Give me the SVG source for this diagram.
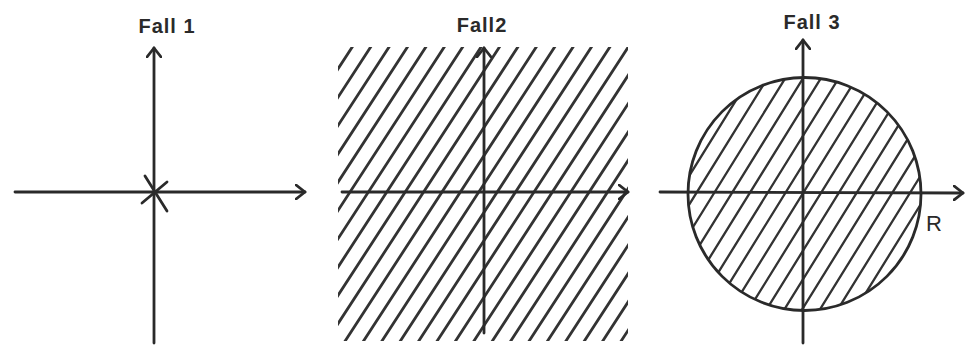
<svg xmlns="http://www.w3.org/2000/svg" width="971" height="350" viewBox="0 0 971 350">
  <style>
    .axis { stroke: #2a2a2a; stroke-width: 2.8; fill: none; stroke-linecap: round; stroke-linejoin: round; }
    .hatch2 { stroke: #333; stroke-width: 2.8; fill: none; stroke-linecap: round; }
    .hatch3 { stroke: #333; stroke-width: 2.3; fill: none; stroke-linecap: round; }
    .lbl { font-family: "Liberation Sans", Arial, sans-serif; font-size: 20px; font-weight: bold; fill: #2a2a2a; letter-spacing: 1px; text-anchor: middle; }
  </style>
  <defs>
    <marker id="arr" viewBox="0 0 12 16" refX="10" refY="8" markerWidth="12" markerHeight="16" markerUnits="userSpaceOnUse" orient="auto">
      <path d="M1,1 L10,8 L1,15" fill="none" stroke="#2a2a2a" stroke-width="2.8" stroke-linecap="round" stroke-linejoin="round"/>
    </marker>
    <clipPath id="clip2">
      <rect x="338" y="47" width="290" height="294"/>
    </clipPath>
    <clipPath id="clip3">
      <circle cx="804.5" cy="194" r="116.5"/>
    </clipPath>
  </defs>
  <rect width="971" height="350" fill="#ffffff"/>

  <!-- Panel 1 -->
  <g id="fall1">
    <text class="lbl" x="167" y="33">Fall 1</text>
    <g id="fall1-axes">
      <path class="axis" d="M15,192 L305,192" marker-end="url(#arr)"/>
      <path class="axis" d="M154,343 L154,48" marker-end="url(#arr)"/>
    </g>
    <g id="fall1-point">
      <path class="axis" d="M145,176 L167,211 M142,203 L167,182"/>
    </g>
  </g>

  <!-- Panel 2 -->
  <g id="fall2">
    <text class="lbl" x="482" y="32">Fall2</text>
    <g id="fall2-hatch" clip-path="url(#clip2)">
      <path class="hatch2" d="M155.3,350 l208,-320 M173.7,350 l208,-320 M192.1,350 l208,-320 M210.5,350 l208,-320 M228.9,350 l208,-320 M247.3,350 l208,-320 M265.7,350 l208,-320 M284.1,350 l208,-320 M302.5,350 l208,-320 M320.9,350 l208,-320 M339.3,350 l208,-320 M357.7,350 l208,-320 M376.1,350 l208,-320 M394.5,350 l208,-320 M412.9,350 l208,-320 M431.3,350 l208,-320 M449.7,350 l208,-320 M468.1,350 l208,-320 M486.5,350 l208,-320 M504.9,350 l208,-320 M523.3,350 l208,-320 M541.7,350 l208,-320 M560.1,350 l208,-320 M578.5,350 l208,-320 M596.9,350 l208,-320 M615.3,350 l208,-320"/>
    </g>
    <g id="fall2-axes">
      <path class="axis" d="M342,192 L628,192" marker-end="url(#arr)"/>
      <path class="axis" d="M484,333 L484,48" marker-end="url(#arr)"/>
    </g>
  </g>

  <!-- Panel 3 -->
  <g id="fall3">
    <text class="lbl" x="812" y="29">Fall 3</text>
    <g id="fall3-hatch" clip-path="url(#clip3)">
      <path class="hatch3" d="M546.4,320 l158.1,-255 M564.2,320 l158.1,-255 M582,320 l158.1,-255 M599.8,320 l158.1,-255 M617.6,320 l158.1,-255 M635.4,320 l158.1,-255 M653.2,320 l158.1,-255 M671,320 l158.1,-255 M688.8,320 l158.1,-255 M706.6,320 l158.1,-255 M724.4,320 l158.1,-255 M742.2,320 l158.1,-255 M760,320 l158.1,-255 M777.8,320 l158.1,-255 M795.6,320 l158.1,-255 M813.4,320 l158.1,-255 M831.2,320 l158.1,-255 M849,320 l158.1,-255 M866.8,320 l158.1,-255 M884.6,320 l158.1,-255 M902.4,320 l158.1,-255"/>
    </g>
    <circle id="fall3-circle" class="axis" cx="804.5" cy="194" r="116.5"/>
    <g id="fall3-axes">
      <path class="axis" d="M660,192 L963,193" marker-end="url(#arr)"/>
      <path class="axis" d="M803,343 L803,40" marker-end="url(#arr)"/>
    </g>
    <text class="lbl" x="934" y="231" style="letter-spacing:0;font-size:22px;font-weight:normal">R</text>
  </g>
</svg>
